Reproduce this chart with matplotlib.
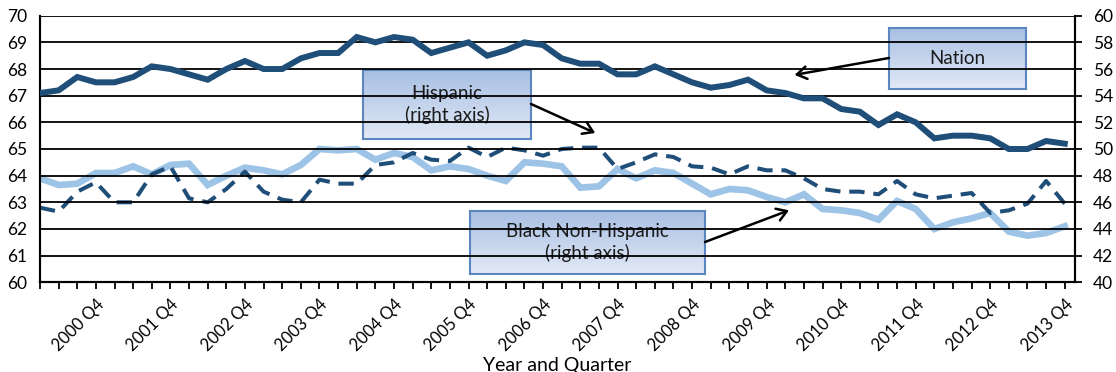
import numpy as np
import matplotlib
matplotlib.use('Agg')
import matplotlib.pyplot as plt

plt.rcParams['font.family'] = ['Lato', 'DejaVu Sans']

# quarters 2000 Q1 .. 2013 Q4
years = list(range(2000, 2014))
quarters = [f'{y} Q{q}' for y in years for q in (1, 2, 3, 4)]

# homeownership rate, percent
nation = [67.1, 67.2, 67.7, 67.5, 67.5, 67.7, 68.1, 68.0,
          67.8, 67.6, 68.0, 68.3, 68.0, 68.0, 68.4, 68.6,
          68.6, 69.2, 69.0, 69.2, 69.1, 68.6, 68.8, 69.0,
          68.5, 68.7, 69.0, 68.9, 68.4, 68.2, 68.2, 67.8,
          67.8, 68.1, 67.8, 67.5, 67.3, 67.4, 67.6, 67.2,
          67.1, 66.9, 66.9, 66.5, 66.4, 65.9, 66.3, 66.0,
          65.4, 65.5, 65.5, 65.4, 65.0, 65.0, 65.3, 65.2]
hispanic = [45.6, 45.3, 46.8, 47.5, 46.0, 46.0, 48.1, 48.7,
            46.3, 46.0, 47.0, 48.3, 46.8, 46.2, 46.0, 47.7,
            47.4, 47.4, 48.8, 49.0, 49.7, 49.2, 49.1, 50.1,
            49.4, 50.1, 49.9, 49.5, 50.0, 50.1, 50.1, 48.5,
            49.0, 49.6, 49.4, 48.7, 48.6, 48.1, 48.7, 48.4,
            48.4, 47.8, 47.0, 46.8, 46.8, 46.6, 47.6, 46.6,
            46.3, 46.5, 46.7, 45.2, 45.4, 45.9, 47.6, 45.9]
black = [47.8, 47.3, 47.4, 48.2, 48.2, 48.7, 48.1, 48.8,
         48.9, 47.3, 48.0, 48.6, 48.4, 48.1, 48.8, 50.0,
         49.9, 50.0, 49.2, 49.7, 49.4, 48.4, 48.7, 48.5,
         48.0, 47.6, 49.0, 48.9, 48.7, 47.1, 47.2, 48.5,
         47.8, 48.4, 48.2, 47.4, 46.6, 47.0, 46.9, 46.4,
         46.0, 46.6, 45.5, 45.4, 45.2, 44.7, 46.1, 45.5,
         44.0, 44.5, 44.8, 45.2, 43.8, 43.5, 43.7, 44.2]

dark = '#1F4E79'
light = '#9DC3E6'

W, H = 1116, 372
fig = plt.figure(figsize=(W / 100, H / 100), dpi=100)


def fx(px):
    return px / W


def fy(py):
    return 1 - py / H


ax = fig.add_axes([fx(40), fy(282.3), fx(1075 - 40), (282.3 - 15.7) / H])
ax2 = ax.twinx()
x = np.arange(len(quarters))

ax.plot(x, nation, color=dark, lw=4.3, solid_joinstyle='miter', zorder=3)
ax2.plot(x, black, color=light, lw=4.8, solid_joinstyle='miter', zorder=2)
ax2.plot(x, hispanic, color=dark, lw=2.9, dashes=(3.8, 2.2), zorder=3)

ax.set_ylim(60, 70)
ax.set_yticks(range(60, 71))
ax2.set_ylim(40, 60)
ax2.set_yticks(range(40, 61, 2))
ax.set_xlim(0, 55.55)
ax.set_xticks(x)
ax.set_xticklabels([q if q.endswith('Q4') else '' for q in quarters],
                   rotation=45, ha='right', va='top', rotation_mode='anchor')
ax.set_xlabel('Year and Quarter', fontsize=14, labelpad=2)

ax.grid(axis='y', color='black', lw=1.3)
ax.set_axisbelow(True)
ax.tick_params(axis='x', direction='out', length=5, width=1.3, labelsize=12, pad=5)
ax.tick_params(axis='y', length=0, labelsize=12.5, pad=9)
ax2.tick_params(axis='y', direction='out', length=5, width=1.3, labelsize=12.5, pad=8)
for a in (ax, ax2):
    a.spines['top'].set_visible(False)
    for s in ('left', 'right', 'bottom'):
        a.spines[s].set_linewidth(1.5)
        a.spines[s].set_color('black')
ax.patch.set_visible(False)
ax.set_zorder(ax2.get_zorder() + 1)

# gradient label boxes
grad = np.linspace(0, 1, 64).reshape(-1, 1)
cmap = matplotlib.colors.LinearSegmentedColormap.from_list('box', ['#A8BFE3', '#E2E9F6'])


def label_box(x0, y0, x1, y1, text):
    bax = fig.add_axes([fx(x0), fy(y1), fx(x1 - x0), (y1 - y0) / H])
    bax.imshow(grad, cmap=cmap, aspect='auto', extent=(0, 1, 0, 1), origin='upper')
    bax.set_xticks([])
    bax.set_yticks([])
    for s in bax.spines.values():
        s.set_color('#5B86C0')
        s.set_linewidth(1.5)
    bax.text(0.5, 0.5, text, ha='center', va='center', fontsize=13.5,
             linespacing=1.3, color='#1a1a1a', transform=bax.transAxes)
    return bax


label_box(889, 27.7, 1026, 89.3, 'Nation')
label_box(363, 70, 531, 139, 'Hispanic\n(right axis)')
label_box(470, 210.7, 705, 274, 'Black Non-Hispanic\n(right axis)')

arrow = dict(arrowstyle='->, head_length=0.7, head_width=0.45', color='black', lw=1.8,
             shrinkA=0, shrinkB=0)
ax.annotate('', xy=(40.5, 67.78), xycoords='data', xytext=(889, H - 58),
            textcoords='figure pixels', arrowprops=arrow, zorder=6)
ax.annotate('', xy=(29.8, 65.6), xycoords='data', xytext=(531, H - 104),
            textcoords='figure pixels', arrowprops=arrow, zorder=6)
ax.annotate('', xy=(40.2, 62.7), xycoords='data', xytext=(705, H - 242),
            textcoords='figure pixels', arrowprops=arrow, zorder=6)

fig.savefig('out.png', dpi=100)
